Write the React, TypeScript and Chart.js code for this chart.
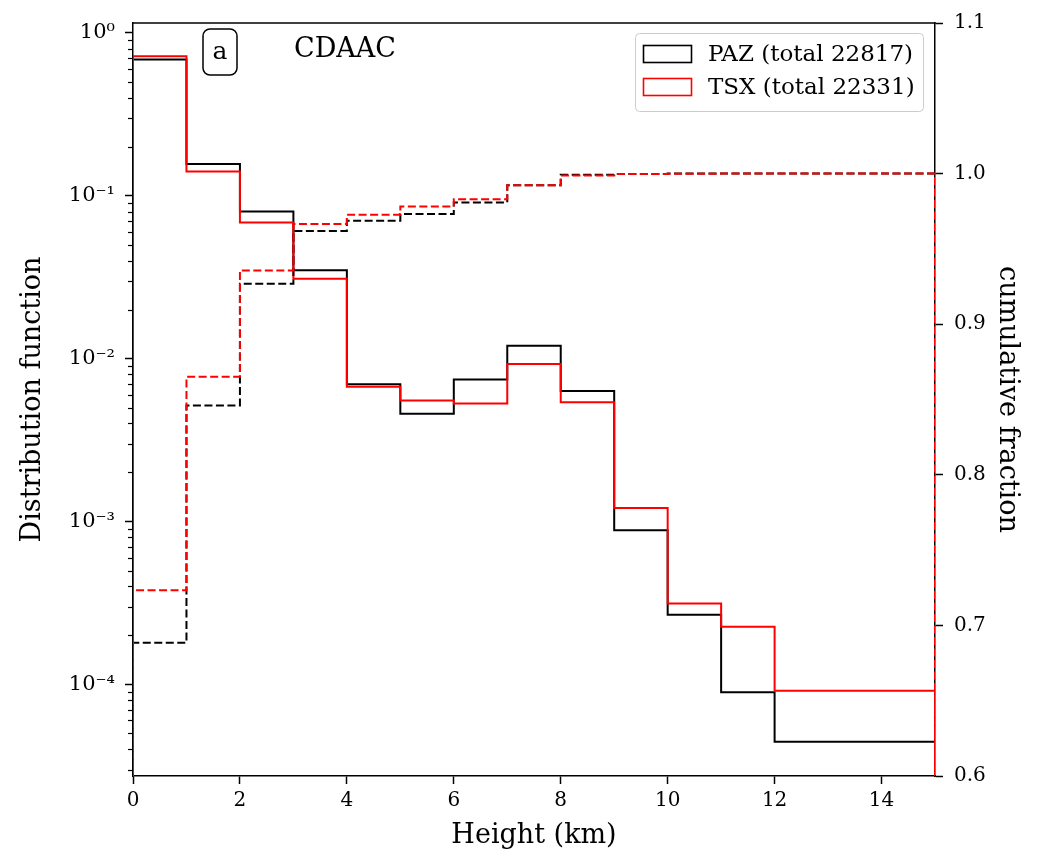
import React, { useEffect, useRef } from "react";
import { Chart, registerables } from "chart.js";

Chart.register(...registerables);

// ---- data ----
const binEdges = [0, 1, 2, 3, 4, 5, 6, 7, 8, 9, 10, 11, 12, 13, 14, 15];
const pazDensity = [0.687, 0.157, 0.080, 0.0349, 0.00697, 0.00459, 0.00744, 0.0120, 0.00634, 0.000883, 0.000268, 0.0000893, 0.0000444, 0.0000444, 0.0000444];
const tsxDensity = [0.720, 0.141, 0.0686, 0.0310, 0.00671, 0.00553, 0.00531, 0.00928, 0.00540, 0.00121, 0.000314, 0.000226, 0.0000914, 0.0000914, 0.0000914];
const pazCumulative = [0.6884, 0.846, 0.9268, 0.9619, 0.9687, 0.9731, 0.9808, 0.9922, 0.9992, 0.9998, 1.0, 1.0, 1.0, 1.0, 1.0];
const tsxCumulative = [0.7234, 0.8651, 0.9357, 0.9665, 0.9727, 0.9782, 0.983, 0.9923, 0.9987, 0.9997, 0.9999, 1.0, 1.0, 1.0, 1.0];
const xTickValues = [0, 2, 4, 6, 8, 10, 12, 14];
const logTickValues = [1e-4, 1e-3, 1e-2, 1e-1, 1];
const logTickLabels = ["10⁻⁴", "10⁻³", "10⁻²", "10⁻¹", "10⁰"];
const rightTickValues = [0.6, 0.7, 0.8, 0.9, 1.0, 1.1];
const seriesNames = ["PAZ (total 22817)", "TSX (total 22331)"];
const seriesColors = ["#000000", "#ff0000"];
const panelLetter = "a";
const panelTitle = "CDAAC";
const xTitle = "Height (km)";
const yLeftTitle = "Distribution function";
const yRightTitle = "cumulative fraction";

const X_MIN = 0, X_MAX = 15;
const YL_MIN = 2.737e-5, YL_MAX = 1.151;
const YR_MIN = 0.6, YR_MAX = 1.1;
const LOG_FLOOR = 1e-9; // histogram base (zero) on the log axis
const LIN_FLOOR = 0;

const FONT = "'DejaVu Serif', 'Liberation Serif', serif";

function stepPoints(values: number[], floor: number) {
  const pts: { x: number; y: number }[] = [{ x: binEdges[0], y: floor }];
  values.forEach((v, i) => pts.push({ x: binEdges[i], y: v }));
  pts.push({ x: binEdges[binEdges.length - 1], y: floor });
  return pts;
}

const decorPlugin = {
  id: "decor",
  afterDatasetsDraw(chart: any) {
    const { ctx, chartArea } = chart;
    const { left, right, top } = chartArea;
    ctx.save();
    // top spine
    ctx.strokeStyle = "#000";
    ctx.lineWidth = 1.5;
    ctx.beginPath();
    ctx.moveTo(left - 0.75, top);
    ctx.lineTo(right + 0.75, top);
    ctx.stroke();

    // minor ticks on log axis
    const ys = chart.scales.y;
    ctx.lineWidth = 1.2;
    for (let k = -6; k <= 0; k++) {
      for (let m = 2; m <= 9; m++) {
        const v = m * Math.pow(10, k);
        if (v < YL_MIN || v > YL_MAX) continue;
        const py = Math.round(ys.getPixelForValue(v)) + 0.5;
        ctx.beginPath();
        ctx.moveTo(left, py);
        ctx.lineTo(left - 5, py);
        ctx.stroke();
      }
    }

    // panel letter box
    const bx = left + 70, by = top + 6, bw = 34, bh = 46, r = 7;
    ctx.lineWidth = 1.5;
    ctx.strokeStyle = "#000";
    ctx.fillStyle = "#fff";
    ctx.beginPath();
    ctx.roundRect(bx, by, bw, bh, r);
    ctx.fill();
    ctx.stroke();
    ctx.fillStyle = "#000";
    ctx.textAlign = "center";
    ctx.textBaseline = "middle";
    ctx.font = `25px ${FONT}`;
    ctx.fillText(panelLetter, bx + bw / 2, by + bh / 2);

    ctx.font = `27px ${FONT}`;
    ctx.fillText(panelTitle, left + 212, top + 27);

    // legend
    const lw = 288, lh = 78;
    const lx = right - 12 - lw, ly = top + 10;
    ctx.fillStyle = "rgba(255,255,255,0.8)";
    ctx.strokeStyle = "#cccccc";
    ctx.lineWidth = 1;
    ctx.beginPath();
    ctx.roundRect(lx + 0.5, ly + 0.5, lw, lh, 4);
    ctx.fill();
    ctx.stroke();
    ctx.font = `23px ${FONT}`;
    ctx.textAlign = "left";
    ctx.textBaseline = "middle";
    seriesNames.forEach((name, i) => {
      const cy = ly + 21 + i * 33;
      ctx.strokeStyle = seriesColors[i];
      ctx.lineWidth = 1.6;
      ctx.strokeRect(lx + 8.5, cy - 8.5, 48, 17);
      ctx.fillStyle = "#000";
      ctx.fillText(name, lx + 73, cy + 1);
    });
    ctx.restore();
  },
};

export default function App() {
  const canvasRef = useRef<HTMLCanvasElement | null>(null);

  useEffect(() => {
    if (!canvasRef.current) return;
    const tickFont = { family: FONT, size: 20 };
    const logTickFont = { family: FONT, size: 21 };
    const titleFont = { family: FONT, size: 27 };
    const chart = new Chart(canvasRef.current, {
      type: "line",
      data: {
        datasets: [
          {
            label: seriesNames[0],
            data: stepPoints(pazDensity, LOG_FLOOR),
            yAxisID: "y",
            borderColor: seriesColors[0],
            borderWidth: 2,
            stepped: "before",
            pointRadius: 0,
            fill: false,
            order: 4,
          },
          {
            label: seriesNames[1],
            data: stepPoints(tsxDensity, LOG_FLOOR),
            yAxisID: "y",
            borderColor: seriesColors[1],
            borderWidth: 2,
            stepped: "before",
            pointRadius: 0,
            fill: false,
            order: 3,
          },
          {
            label: seriesNames[0] + " cumulative",
            data: stepPoints(pazCumulative, LIN_FLOOR),
            yAxisID: "y2",
            borderColor: seriesColors[0],
            borderWidth: 2,
            borderDash: [8, 3.5],
            stepped: "before",
            pointRadius: 0,
            fill: false,
            order: 2,
          },
          {
            label: seriesNames[1] + " cumulative",
            data: stepPoints(tsxCumulative, LIN_FLOOR),
            yAxisID: "y2",
            borderColor: seriesColors[1],
            borderWidth: 2,
            borderDash: [8, 3.5],
            stepped: "before",
            pointRadius: 0,
            fill: false,
            order: 1,
          },
        ],
      },
      options: {
        animation: false,
        responsive: false,
        maintainAspectRatio: false,
        layout: { padding: { top: 20, left: 0, right: 0, bottom: 0 } },
        plugins: {
          legend: { display: false },
          tooltip: { enabled: false },
        },
        scales: {
          x: {
            type: "linear",
            position: "bottom",
            min: X_MIN,
            max: X_MAX,
            afterBuildTicks: (scale: any) => {
              scale.ticks = xTickValues.map((v) => ({ value: v }));
            },
            afterFit: (scale: any) => {
              scale.height = 76;
            },
            grid: { drawOnChartArea: false, tickLength: 8, tickColor: "#000", tickWidth: 1.5 },
            border: { color: "#000", width: 1.5 },
            ticks: {
              font: tickFont,
              color: "#000",
              padding: 5,
              autoSkip: false,
              maxRotation: 0,
              callback: (v: any) => String(v),
            },
            title: {
              display: true,
              text: xTitle,
              font: titleFont,
              color: "#000",
              padding: { top: 0, bottom: 0 },
            },
          },
          y: {
            type: "logarithmic",
            position: "left",
            min: YL_MIN,
            max: YL_MAX,
            afterBuildTicks: (scale: any) => {
              scale.ticks = logTickValues.map((v) => ({ value: v }));
            },
            afterFit: (scale: any) => {
              scale.width = 133;
            },
            grid: { drawOnChartArea: false, tickLength: 8, tickColor: "#000", tickWidth: 1.5 },
            border: { color: "#000", width: 1.5 },
            ticks: {
              font: logTickFont,
              color: "#000",
              padding: 10,
              autoSkip: false,
              callback: (v: any) => {
                const i = logTickValues.findIndex((t) => Math.abs(Math.log10(t) - Math.log10(v)) < 1e-6);
                return i >= 0 ? logTickLabels[i] : "";
              },
            },
            title: {
              display: true,
              text: yLeftTitle,
              font: titleFont,
              color: "#000",
              padding: { top: 17, bottom: 0 },
            },
          },
          y2: {
            type: "linear",
            position: "right",
            min: YR_MIN,
            max: YR_MAX,
            afterBuildTicks: (scale: any) => {
              scale.ticks = rightTickValues.map((v) => ({ value: v }));
            },
            afterFit: (scale: any) => {
              scale.width = 105;
            },
            grid: { drawOnChartArea: false, tickLength: 8, tickColor: "#000", tickWidth: 1.5 },
            border: { color: "#000", width: 1.5 },
            ticks: {
              font: tickFont,
              color: "#000",
              padding: 11,
              autoSkip: false,
              callback: (v: any) => Number(v).toFixed(1),
            },
            title: {
              display: true,
              text: yRightTitle,
              font: titleFont,
              color: "#000",
              padding: { top: 17, bottom: 0 },
            },
          },
        },
      } as any,
      plugins: [decorPlugin],
    });
    return () => chart.destroy();
  }, []);

  return (
    <div style={{ position: "absolute", left: 0, top: 0, width: 1040, height: 852, background: "#fff" }}>
      <canvas ref={canvasRef} width={1040} height={852} style={{ display: "block", width: 1040, height: 852 }} />
    </div>
  );
}
